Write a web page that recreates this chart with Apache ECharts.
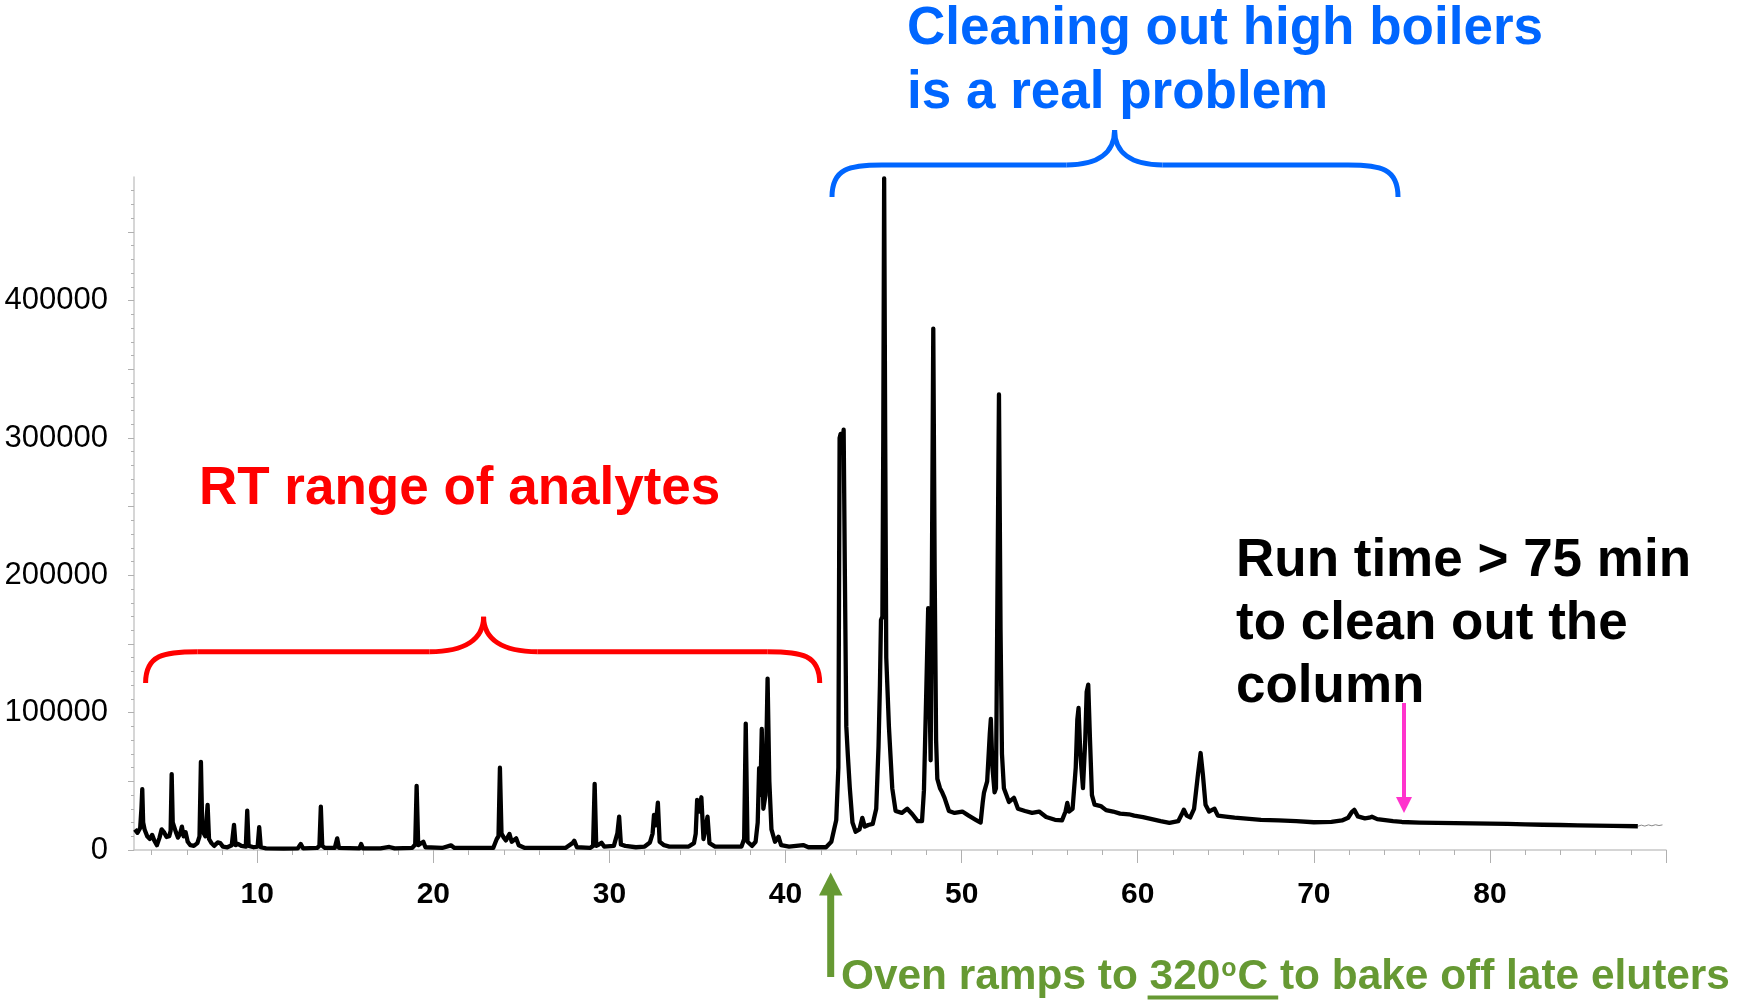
<!DOCTYPE html>
<html><head><meta charset="utf-8">
<script src="https://cdn.jsdelivr.net/npm/echarts@6/dist/echarts.min.js"></script>
<style>html,body{margin:0;padding:0;background:#fff}#c{width:1737px;height:1000px}</style>
</head><body><div id="c"></div>
<script>
// ---- data (retention time in min, abundance) ----
const xTickLabels = [10, 20, 30, 40, 50, 60, 70, 80];
const yTickLabels = [0, 100000, 200000, 300000, 400000];

const analyteTrace = [
[3.05,15000],[3.2,12500],[3.35,16000],[3.42,30000],[3.47,44300],[3.52,20000],[3.6,15000],[3.75,10000],[3.9,8000],[4.03,11000],[4.15,7000],[4.3,3500],[4.45,9000],[4.57,15000],[4.7,13000],[4.85,9500],[5.0,10000],[5.08,14000],[5.14,55300],[5.2,20000],[5.28,20500],[5.38,13000],[5.5,9000],[5.62,12000],[5.72,17000],[5.82,10000],[5.93,13000],[6.05,6000],[6.2,3500],[6.4,3000],[6.6,5000],[6.72,10000],[6.8,64200],[6.88,14000],[7.05,10000],[7.18,32900],[7.26,8000],[7.4,5000],[7.55,3000],[7.75,5500],[7.9,5000],[8.05,2500],[8.3,2000],[8.55,3500],[8.68,18300],[8.77,3500],[8.9,4500],[9.1,3000],[9.35,2500],[9.43,28700],[9.51,3000],[9.8,2000],[10.02,2500],[10.11,16600],[10.2,2000],[10.5,1200],[11.5,1000],[12.3,1200],[12.47,4400],[12.6,1200],[13.4,1500],[13.53,3000],[13.61,31600],[13.69,3000],[13.85,1500],[14.4,1500],[14.54,8500],[14.64,1500],[15.8,1200],[15.9,4400],[16.0,1200],[17.0,1200],[17.5,2200],[17.8,1200],[18.8,1500],[18.97,4000],[19.05,46700],[19.14,3500],[19.43,6000],[19.55,2000],[20.5,1500],[21.0,3400],[21.2,1500],[23.4,1500],[23.6,8000],[23.7,10000],[23.78,59900],[23.87,12000],[24.0,9000],[24.12,7000],[24.32,11700],[24.45,6000],[24.7,8500],[24.85,3500],[25.2,1500],[27.5,1500],[27.9,5000],[28.0,6800],[28.15,2000],[28.9,1500],[29.07,3000],[29.16,48200],[29.25,3000],[29.4,4000],[29.55,5300],[29.7,2500],[30.25,3000],[30.45,12100],[30.55,24300],[30.65,4000],[30.9,3000],[31.5,2000],[32.0,2500],[32.3,5500],[32.45,12000],[32.53,25500],[32.63,18000],[32.75,34500],[32.85,6000],[33.1,3500],[33.2,4900],[33.4,2500],[34.5,2500],[34.8,5000],[34.9,12000],[34.98,36500],[35.1,28000],[35.22,38400],[35.34,8000],[35.45,8000],[35.57,24300],[35.68,5000],[36.0,2500],[37.5,2500],[37.65,8000],[37.74,92000],[37.84,6000],[38.1,3000],[38.3,6000],[38.42,20000],[38.5,59600],[38.57,40000],[38.65,88100],[38.74,30000],[38.86,40000],[38.98,124800],[39.08,50000],[39.2,15000],[39.4,6000],[39.6,9700],[39.75,3500],[40.2,2500],[41.0,3600],[41.3,2000],[42.3,2000],[42.6,6000]
];
const boilerTrace = [
[42.75,14600],[42.88,21900],[43.0,60000],[43.07,300000],[43.13,303000],[43.21,290000],[43.3,306000],[43.37,200000],[43.45,90000],[43.54,68600],[43.65,45000],[43.8,20000],[43.98,13300],[44.2,15000],[44.36,23400],[44.5,17000],[44.7,18200],[44.95,19000],[45.15,30000],[45.28,75300],[45.36,120000],[45.42,167500],[45.5,170000],[45.55,300000],[45.6,489000],[45.66,300000],[45.72,140000],[45.87,90000],[46.06,45000],[46.25,28400],[46.6,27000],[46.91,30000],[47.2,26000],[47.5,21000],[47.75,21000],[47.86,43400],[48.0,120000],[48.1,176000],[48.17,120000],[48.24,65300],[48.31,200000],[48.39,379600],[48.47,200000],[48.55,80000],[48.62,51800],[48.77,45000],[48.9,41800],[49.03,38000],[49.28,28400],[49.6,27000],[50.04,28000],[50.4,25000],[50.8,22000],[51.08,20000],[51.2,35000],[51.27,41800],[51.45,50000],[51.6,85000],[51.66,95400],[51.75,60000],[51.87,42000],[51.95,45000],[52.03,180000],[52.12,331700],[52.21,160000],[52.29,70000],[52.4,45000],[52.69,35000],[52.97,38000],[53.2,30000],[53.6,28400],[54.0,27000],[54.4,28000],[54.8,24000],[55.3,22000],[55.7,21600],[55.9,28000],[56.0,34300],[56.1,28000],[56.3,30000],[56.48,60000],[56.57,95000],[56.64,103400],[56.74,70000],[56.89,45000],[57.02,80000],[57.1,115000],[57.19,120400],[57.29,80000],[57.4,40000],[57.55,33000],[57.9,32000]
];
const bakeoutTrace = [
[58.2,29000],[58.6,28000],[59.0,26500],[59.5,26000],[59.8,25000],[60.3,24000],[60.8,22500],[61.3,21000],[61.8,19800],[62.3,21000],[62.5,26000],[62.62,29300],[62.78,25000],[62.98,23700],[63.2,30000],[63.42,55000],[63.57,70600],[63.7,55000],[63.85,33000],[64.05,28000],[64.2,29000],[64.36,30000],[64.55,25000],[65.0,24300],[65.5,23500],[66.0,23000],[67.0,22000],[68.0,21500],[69.0,21000],[70.0,20200],[71.0,20500],[71.6,21500],[71.95,23500],[72.15,27500],[72.3,29200],[72.5,24500],[72.9,23000],[73.15,23500],[73.3,24200],[73.6,22500],[74.5,21000],[75.0,20400],[76,20000],[77,19800],[78,19600],[79,19400],[80,19200],[81,19000],[82,18700],[83,18400],[84,18200],[85,17900],[86,17700],[87,17500],[88.4,17300]
];
const tailTrace = [
[88.4,17300],[88.6,18100],[88.8,17400],[89.0,18300],[89.2,17600],[89.4,18400],[89.6,17800],[89.8,18300]
];

// ---- chart ----
const FONT = '"Liberation Sans", Arial, Helvetica, sans-serif';
const chart = echarts.init(document.getElementById('c'), null, {renderer: 'canvas', width: 1737, height: 1000});

const minorX = []; for (let v = 4; v <= 90; v += 2) if (v % 10) minorX.push(v);
const majorX = []; for (let v = 10; v <= 90; v += 10) majorX.push(v);
const minorY = []; for (let v = 10000; v <= 480000; v += 10000) if (v % 50000) minorY.push(v);
const majorY = []; for (let v = 0; v <= 450000; v += 50000) majorY.push(v);

const AXIS_GRAY = '#c8c8c8';
const mainTrace = analyteTrace.concat(boilerTrace, bakeoutTrace);

// ---- annotation helpers ----
const mctx = document.createElement('canvas').getContext('2d');
function tw(str, size) { mctx.font = 'bold ' + size + 'px ' + FONT; return mctx.measureText(str).width; }
function txt(str, x, baseline, size, color) {
  return {type: 'text', silent: true, z: 100,
    style: {text: str, x: x, y: baseline - 0.3465 * size, font: 'bold ' + size + 'px ' + FONT,
      fill: color, textAlign: 'left', textVerticalAlign: 'middle', align: 'left', verticalAlign: 'middle'}};
}
function brace(xL, xC, xR, yEnd, yBar, yTip, r, r2, color, w) {
  const ls = {stroke: color, lineWidth: w, fill: null, lineCap: 'butt'};
  const els = [];
  els.push({type: 'bezierCurve', silent: true, shape: {x1: xL, y1: yEnd, cpx1: xL, cpy1: yBar + (yEnd - yBar) * 0.1, cpx2: xL + r * 0.35, cpy2: yBar, x2: xL + r, y2: yBar}, style: ls});
  els.push({type: 'line', silent: true, shape: {x1: xL + r, y1: yBar, x2: xC - r2, y2: yBar}, style: ls});
  els.push({type: 'bezierCurve', silent: true, shape: {x1: xC - r2, y1: yBar, cpx1: xC - r2 * 0.35, cpy1: yBar, cpx2: xC, cpy2: yBar - (yBar - yTip) * 0.35, x2: xC, y2: yTip}, style: ls});
  els.push({type: 'bezierCurve', silent: true, shape: {x1: xC, y1: yTip, cpx1: xC, cpy1: yBar - (yBar - yTip) * 0.35, cpx2: xC + r2 * 0.35, cpy2: yBar, x2: xC + r2, y2: yBar}, style: ls});
  els.push({type: 'line', silent: true, shape: {x1: xC + r2, y1: yBar, x2: xR - r, y2: yBar}, style: ls});
  els.push({type: 'bezierCurve', silent: true, shape: {x1: xR - r, y1: yBar, cpx1: xR - r * 0.35, cpy1: yBar, cpx2: xR, cpy2: yBar + (yEnd - yBar) * 0.1, x2: xR, y2: yEnd}, style: ls});
  return els;
}

const BLUE = '#0066FF', RED = '#FF0000', GREEN = '#669933', MAGENTA = '#FF33CC';
const graphics = [];
// blue brace + text
graphics.push(...brace(832, 1114.6, 1398, 197, 165, 130, 50, 48, BLUE, 5));
graphics.push(txt('Cleaning out high boilers', 907, 48, 53, BLUE));
graphics.push(txt('is a real problem', 907, 112, 53, BLUE));
// red brace + text
graphics.push(...brace(145.6, 483.6, 819.7, 683, 651.7, 616.7, 52, 54, RED, 5));
graphics.push(txt('RT range of analytes', 199, 508, 53, RED));
// black text
graphics.push(txt('Run time > 75 min', 1236, 580, 53, '#000'));
graphics.push(txt('to clean out the', 1236, 643, 53, '#000'));
graphics.push(txt('column', 1236, 706, 53, '#000'));
// magenta arrow
graphics.push({type: 'line', silent: true, shape: {x1: 1404, y1: 703, x2: 1404, y2: 800}, style: {stroke: MAGENTA, lineWidth: 4}});
graphics.push({type: 'polygon', silent: true, shape: {points: [[1396, 797], [1412, 797], [1404, 813]]}, style: {fill: MAGENTA}});
// green arrow
graphics.push({type: 'line', silent: true, shape: {x1: 830.7, y1: 977, x2: 830.7, y2: 893}, style: {stroke: GREEN, lineWidth: 7}});
graphics.push({type: 'polygon', silent: true, shape: {points: [[819, 895.5], [842.5, 895.5], [830.7, 872.5]]}, style: {fill: GREEN}});
// green text with superscript + underline
(function () {
  const size = 42.4, sup = 25, base = 992;
  let x = 841;
  const p1 = 'Oven ramps to ', p2 = '320', p3 = 'o', p4 = 'C', p5 = ' to bake off late eluters';
  graphics.push(txt(p1, x, base, size, GREEN)); x += tw(p1, size);
  const uStart = x;
  graphics.push(txt(p2, x, base, size, GREEN)); x += tw(p2, size);
  graphics.push(txt(p3, x + 1, base - 14, sup, GREEN)); x += tw(p3, sup) + 2;
  graphics.push(txt(p4, x, base, size, GREEN)); x += tw(p4, size);
  const uEnd = x;
  graphics.push(txt(p5, x, base, size, GREEN));
  graphics.push({type: 'line', silent: true, shape: {x1: uStart - 2, y1: base + 5.5, x2: uEnd + 10, y2: base + 5.5}, style: {stroke: GREEN, lineWidth: 4}});
})();

const option = {
  animation: false,
  backgroundColor: '#ffffff',
  grid: {left: 134, right: 71, top: 177, bottom: 150, containLabel: false},
  xAxis: [
    {type: 'value', min: 3, max: 90, position: 'bottom',
      axisLine: {show: true, onZero: false, lineStyle: {color: AXIS_GRAY, width: 1.5}},
      axisTick: {show: true, customValues: minorX, length: 5, lineStyle: {color: '#b0b0b0', width: 1}},
      axisLabel: {show: true, customValues: xTickLabels, fontSize: 30, fontWeight: 'bold', color: '#000', fontFamily: FONT, margin: 30,
        formatter: v => String(v)},
      splitLine: {show: false}},
    {type: 'value', min: 3, max: 90, position: 'bottom',
      axisLine: {show: false, onZero: false},
      axisTick: {show: true, customValues: majorX, length: 13, lineStyle: {color: '#b0b0b0', width: 1}},
      axisLabel: {show: false},
      splitLine: {show: false}}
  ],
  yAxis: [
    {type: 'value', min: 0, max: 490000, position: 'left',
      axisLine: {show: true, lineStyle: {color: AXIS_GRAY, width: 1.5}},
      axisTick: {show: true, customValues: minorY, length: 3, lineStyle: {color: '#b0b0b0', width: 1}},
      axisLabel: {show: true, customValues: yTickLabels, fontSize: 31, color: '#000', fontFamily: FONT, margin: 26,
        formatter: v => String(v)},
      splitLine: {show: false}},
    {type: 'value', min: 0, max: 490000, position: 'left',
      axisLine: {show: false},
      axisTick: {show: true, customValues: majorY, length: 6, lineStyle: {color: '#b0b0b0', width: 1}},
      axisLabel: {show: false},
      splitLine: {show: false}}
  ],
  series: [
    {type: 'line', name: 'signal', xAxisIndex: 0, yAxisIndex: 0, data: mainTrace, showSymbol: false, symbol: 'none',
      lineStyle: {color: '#000', width: 4.3, join: 'round'}, smooth: false, sampling: null, z: 5, silent: true},
    {type: 'line', name: 'tail', xAxisIndex: 0, yAxisIndex: 0, data: tailTrace, showSymbol: false, symbol: 'none',
      lineStyle: {color: '#888', width: 1}, z: 4, silent: true}
  ],
  graphic: {elements: graphics}
};
chart.setOption(option);
</script></body></html>
